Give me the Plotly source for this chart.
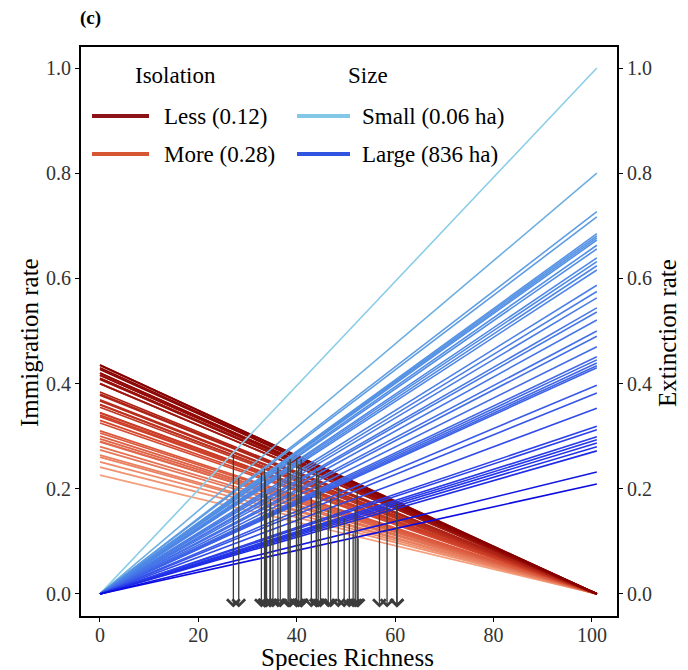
import numpy as np
import plotly.graph_objects as go

# ---------------- data ----------------
species_pool = 101  # richness at which immigration reaches 0
richness_ticks = [0, 20, 40, 60, 80, 100]
rate_ticks = [0.0, 0.2, 0.4, 0.6, 0.8, 1.0]

# one entry per island: immigration rate at S=0, extinction rate at S=P
immigration0 = [0.367, 0.310, 0.360, 0.345, 0.340, 0.380, 0.420, 0.410, 0.330, 0.430,
                0.435, 0.360, 0.416, 0.306, 0.400, 0.290, 0.384, 0.420, 0.280, 0.408,
                0.260, 0.378, 0.251, 0.295, 0.355, 0.325, 0.400, 0.264, 0.344, 0.410,
                0.300, 0.337, 0.427, 0.289, 0.435, 0.369, 0.416, 0.274, 0.241, 0.226]
extinction_p = [1.000, 0.800, 0.727, 0.717, 0.685, 0.681, 0.677, 0.673, 0.663, 0.656,
                0.639, 0.632, 0.624, 0.616, 0.587, 0.575, 0.563, 0.544, 0.536, 0.521,
                0.500, 0.490, 0.470, 0.451, 0.445, 0.439, 0.434, 0.430, 0.397, 0.382,
                0.353, 0.319, 0.312, 0.299, 0.293, 0.287, 0.280, 0.272, 0.232, 0.209]

legend_isolation = ["Less (0.12)", "More (0.28)"]
legend_size = ["Small (0.06 ha)", "Large (836 ha)"]

# ---------------- styles ----------------
FONT = "Liberation Serif"
red_stops_v = [0.0, 0.5, 1.0]
red_stops_c = [(245, 160, 125), (212, 70, 45), (135, 0, 0)]
blue_stops_v = [0.209, 0.30, 0.45, 0.65, 0.80, 1.0]
blue_stops_c = [(10, 10, 225), (40, 60, 235), (65, 105, 232), (80, 140, 230), (110, 175, 225), (140, 205, 232)]


def cmap(v, stops_v, stops_c):
    r = np.interp(v, stops_v, [c[0] for c in stops_c])
    g = np.interp(v, stops_v, [c[1] for c in stops_c])
    b = np.interp(v, stops_v, [c[2] for c in stops_c])
    return f"rgb({int(r)},{int(g)},{int(b)})"


imm = np.array(immigration0)
ext = np.array(extinction_p)
imm_t = (imm - imm.min()) / (imm.max() - imm.min())

fig = go.Figure()

xs = [0, species_pool]
# extinction lines (blue) first
for e in ext:
    fig.add_trace(go.Scatter(x=xs, y=[0, e], mode="lines", yaxis="y2",
                             line=dict(color=cmap(e, blue_stops_v, blue_stops_c), width=1.6),
                             showlegend=False, hoverinfo="skip"))
# immigration lines (red)
order = np.argsort(imm)
for i in order:
    fig.add_trace(go.Scatter(x=xs, y=[imm[i], 0], mode="lines",
                             line=dict(color=cmap(imm_t[i], red_stops_v, red_stops_c), width=1.8),
                             showlegend=False, hoverinfo="skip"))

# equilibrium arrows
s_eq = species_pool * imm / (imm + ext)
r_eq = imm * ext / (imm + ext)
arrow_base = -0.026
for s, r in zip(s_eq, r_eq):
    fig.add_annotation(x=s, y=arrow_base, ax=s, ay=r, xref="x", yref="y", axref="x", ayref="y",
                       text="", showarrow=True, arrowhead=4, arrowsize=1.9, arrowwidth=1.3,
                       arrowcolor="rgb(60,60,60)", standoff=0, startstandoff=0)

# ---------------- legend & titles (drawn manually) ----------------
# plot-area edges in window pixels (page body has an 8 px margin)
OFF = 8
L0, R0, T0, B0 = 81, 617, 47, 616
W0, H0 = R0 - L0, B0 - T0
FIG_W, FIG_H = 688 - OFF, 670 - OFF


def px(xp):
    return (xp - L0) / W0


def py(yp):
    return (B0 - yp) / H0


leg_font = dict(family=FONT, size=23, color="black")
fig.add_annotation(x=px(175), y=py(76), xref="paper", yref="paper", text="Isolation",
                   showarrow=False, font=leg_font, xanchor="center", yanchor="middle")
fig.add_annotation(x=px(368), y=py(76), xref="paper", yref="paper", text="Size",
                   showarrow=False, font=leg_font, xanchor="center", yanchor="middle")
leg_colors_iso = ["rgb(140,20,25)", "rgb(214,85,50)"]
leg_colors_size = ["rgb(130,200,230)", "rgb(50,85,225)"]
rows = [116, 154]
for k, yrow in enumerate(rows):
    fig.add_shape(type="line", xref="paper", yref="paper", x0=px(92), x1=px(149), y0=py(yrow), y1=py(yrow),
                  line=dict(color=leg_colors_iso[k], width=4))
    fig.add_annotation(x=px(162), y=py(yrow), xref="paper", yref="paper", text=legend_isolation[k],
                       showarrow=False, font=leg_font, xanchor="left", yanchor="middle")
    fig.add_shape(type="line", xref="paper", yref="paper", x0=px(297), x1=px(350), y0=py(yrow), y1=py(yrow),
                  line=dict(color=leg_colors_size[k], width=4))
    fig.add_annotation(x=px(360), y=py(yrow), xref="paper", yref="paper", text=legend_size[k],
                       showarrow=False, font=leg_font, xanchor="left", yanchor="middle")

fig.add_annotation(x=px(90), y=py(18), xref="paper", yref="paper", text="<b>(c)</b>",
                   showarrow=False, font=dict(family=FONT, size=19, color="black"),
                   xanchor="center", yanchor="middle")

title_font = dict(family=FONT, size=25, color="black")
fig.add_annotation(x=px(347), y=py(657), xref="paper", yref="paper", text="Species Richness",
                   showarrow=False, font=title_font, xanchor="center", yanchor="middle")
fig.add_annotation(x=px(29), y=py(343), xref="paper", yref="paper", text="Immigration rate",
                   showarrow=False, font=title_font, xanchor="center", yanchor="middle", textangle=-90)
fig.add_annotation(x=px(668), y=py(333), xref="paper", yref="paper", text="Extinction rate",
                   showarrow=False, font=title_font, xanchor="center", yanchor="middle", textangle=-90)

# ---------------- axes ----------------
tick_font = dict(family=FONT, size=20, color="#333")
xrange_ = [-3.86, 105.1]
yrange_ = [-0.042, 1.04]
common = dict(showgrid=False, zeroline=False, showline=True, linecolor="black", linewidth=2,
              ticks="outside", ticklen=4, tickcolor="black", tickfont=tick_font, automargin=False)

fig.update_layout(
    width=FIG_W, height=FIG_H,
    margin=dict(l=L0 - OFF, r=FIG_W - (R0 - OFF), t=T0 - OFF, b=FIG_H - (B0 - OFF), autoexpand=False),
    paper_bgcolor="white", plot_bgcolor="white",
    showlegend=False,
    xaxis=dict(range=xrange_, tickmode="array", tickvals=richness_ticks,
               ticktext=[str(v) for v in richness_ticks], mirror=True, ticklabelstandoff=-4, **common),
    yaxis=dict(range=yrange_, tickmode="array", tickvals=rate_ticks,
               ticktext=[f"{v:.1f}" for v in rate_ticks], **common),
    yaxis2=dict(range=yrange_, overlaying="y", side="right", tickmode="array", tickvals=rate_ticks,
                ticktext=[f"{v:.1f}" for v in rate_ticks], **common),
)

fig.write_html("out.html")
